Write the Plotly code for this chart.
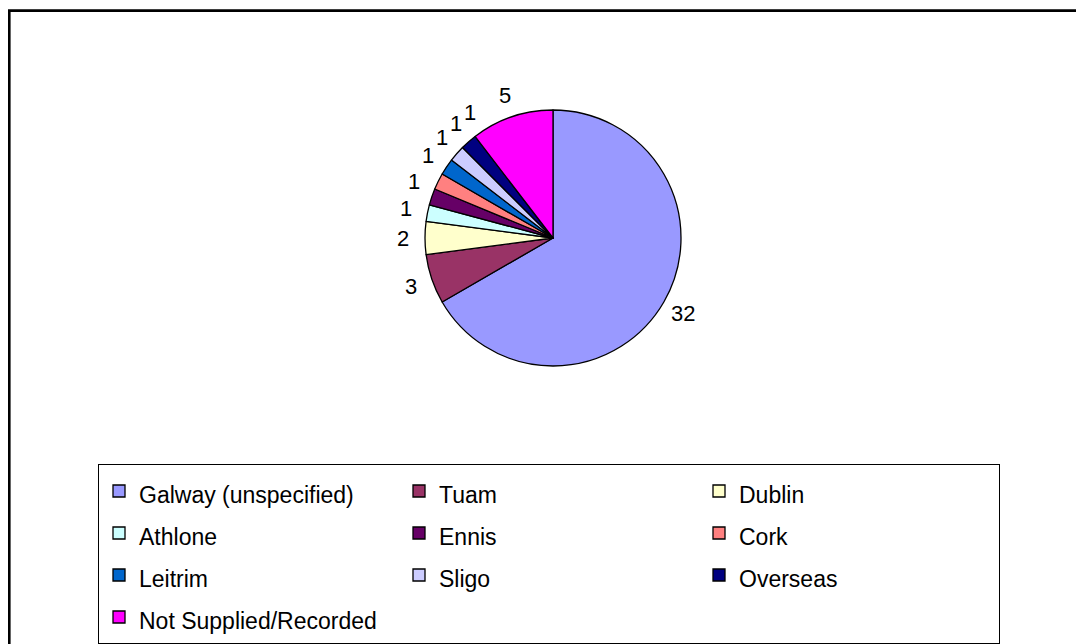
import math
import plotly.graph_objects as go

categories = ["Galway (unspecified)", "Tuam", "Dublin", "Athlone", "Ennis", "Cork",
              "Leitrim", "Sligo", "Overseas", "Not Supplied/Recorded"]
values = [32, 3, 2, 1, 1, 1, 1, 1, 1, 5]
colors = ["#9999FF", "#993366", "#FFFFCC", "#CCFFFF", "#660066", "#FF8080",
          "#0066CC", "#CCCCFF", "#000080", "#FF00FF"]

W, H = 1084, 644
cx, cy, r = 545, 230, 128          # pie centre / radius in figure pixels
label_r = r + 22                    # distance of value labels from centre
FONT = "Liberation Sans, Arial"
LBL_SIZE = 22
CHAR_W, LINE_H = 0.62 * LBL_SIZE, 1.22 * LBL_SIZE   # approximate label box


def overlaps(p, q, wp, wq):
    return abs(p[0] - q[0]) < (wp + wq) / 2 and abs(p[1] - q[1]) < LINE_H


legend_labels = ['<span style="font-size:23px">%s</span>' % c for c in categories]

fig = go.Figure(go.Pie(
    labels=legend_labels,
    values=values,
    marker=dict(colors=colors, line=dict(color="black", width=1.3)),
    sort=False,
    direction="clockwise",
    rotation=0,
    textinfo="none",
    domain=dict(x=[(cx - r) / W, (cx + r) / W], y=[(H - cy - r) / H, (H - cy + r) / H]),
    hoverinfo="label+value",
))

# value labels just outside each slice at its middle angle; a label that would
# collide with an already placed one is fanned further round the circle
total = sum(values)
annotations = []
placed = []
cum = 0
for v in values:
    ang = (cum + v / 2) / total * 360.0
    cum += v
    w = CHAR_W * len(str(v))
    for _ in range(200):
        t = math.radians(ang)
        p = (cx + label_r * math.sin(t), cy - label_r * math.cos(t))
        if not any(overlaps(p, q, w, wq) for q, wq in placed):
            break
        ang += 0.25
    placed.append((p, w))
    annotations.append(dict(
        x=p[0] / W, y=1 - p[1] / H, xref="paper", yref="paper",
        text=str(v), showarrow=False, xanchor="center", yanchor="middle",
        font=dict(family=FONT, size=LBL_SIZE, color="black"),
    ))

fig.update_layout(
    width=W, height=H,
    margin=dict(l=0, r=0, t=0, b=0),
    paper_bgcolor="white", plot_bgcolor="white",
    font=dict(family=FONT, color="black"),
    showlegend=True,
    legend=dict(
        orientation="h",
        x=90 / W, y=1 - 456 / H, xanchor="left", yanchor="top",
        entrywidth=255, entrywidthmode="pixels",
        font=dict(size=30, family=FONT, color="black"),
        bordercolor="black", borderwidth=1, bgcolor="white",
        traceorder="normal",
    ),
    annotations=annotations,
    shapes=[dict(type="rect", xref="paper", yref="paper",
                 x0=1.3 / W, x1=1.02, y0=-0.02, y1=1 - 2.65 / H,
                 line=dict(color="black", width=2.6), layer="below")],
)

fig.write_html("out.html")
